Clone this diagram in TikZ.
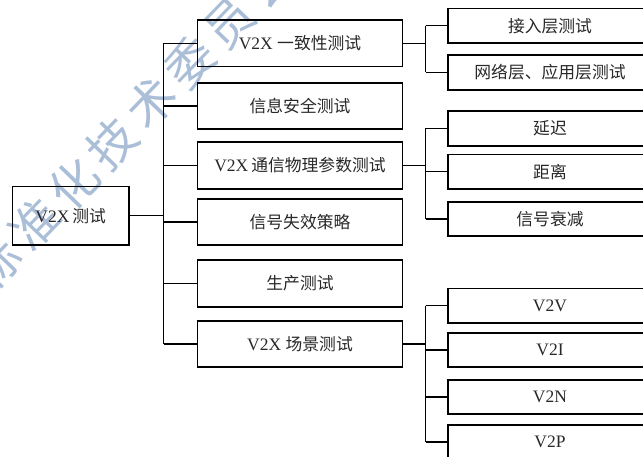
\documentclass[tikz,border=0pt]{standalone}
\usepackage{fontspec}
\setmainfont{Liberation Serif}
\newfontfamily\cjk{Noto Sans CJK SC}
\definecolor{wmblue}{RGB}{170,190,215}
\definecolor{txt}{RGB}{40,40,40}
\tikzset{
  box/.style={draw=black, line width=1.6pt, rectangle, inner sep=0pt, text=txt,
    font=\fontsize{17.5}{19}\selectfont},
  lvl0/.style={box, minimum width=116.5pt, minimum height=58.5pt},
  lvl1/.style={box, minimum width=205pt, minimum height=46.5pt},
  lvl2/.style={box, minimum width=204pt, minimum height=34.5pt},
  conn/.style={line width=1.3pt, black},
  wmark/.style={text=wmblue, rotate=46, inner sep=0pt, font=\cjk\fontsize{48}{50}\selectfont}
}
\newcommand{\zh}[1]{{\cjk\fontsize{16.8}{19}\selectfont #1}}
\begin{document}
\begin{tikzpicture}[x=1pt, y=-1pt]
\useasboundingbox (0,0) rectangle (643,457);
% watermark
\node[wmark] (wm) at (132,123) {标\hspace{8pt}准\hspace{8pt}化\hspace{8pt}技\hspace{8pt}术\hspace{8pt}委\hspace{8pt}员\hspace{8pt}会};
% root
\node[lvl0] (root) at (70.75,215.75) {V2X\,\zh{测试}};
% level 1
\node[lvl1] (m1) at (300,43.25) {V2X \zh{一致性测试}};
\node[lvl1] (m2) at (300,106) {\zh{信息安全测试}};
\node[lvl1] (m3) at (300,165.5) {V2X\,\zh{通信物理参数测试}};
\node[lvl1] (m4) at (300,222) {\zh{信号失效策略}};
\node[lvl1] (m5) at (300,283.5) {\zh{生产测试}};
\node[lvl1] (m6) at (300,344) {V2X \zh{场景测试}};
% level 2
\node[lvl2] (r1) at (550,25.75) {\zh{接入层测试}};
\node[lvl2] (r2) at (550,72.5) {\zh{网络层、应用层测试}};
\node[lvl2] (r3) at (550,128.5) {\zh{延迟}};
\node[lvl2] (r4) at (550,171.75) {\zh{距离}};
\node[lvl2] (r5) at (550,219) {\zh{信号衰减}};
\node[lvl2] (r6) at (550,305.75) {V2V};
\node[lvl2] (r7) at (550,350) {V2I};
\node[lvl2] (r8) at (550,397) {V2N};
\node[lvl2] (r9) at (550,442) {V2P};
% trunk coordinates
\coordinate (t) at (163.5,215.75);
\coordinate (s) at (425.5,0);
% main trunk
\draw[conn] (root.east) -- (t);
\draw[conn] (t |- m1.west) -- (t |- m6.west);
\foreach \m in {m1,m2,m3,m4,m5,m6} \draw[conn] (t |- \m.west) -- (\m.west);
% sub trunks
\draw[conn] (m1.east) -- (s |- m1.east);
\draw[conn] (s |- r1.west) -- (s |- r2.west);
\draw[conn] (m3.east) -- (s |- m3.east);
\draw[conn] (s |- r3.west) -- (s |- r5.west);
\draw[conn] (m6.east) -- (s |- m6.east);
\draw[conn] (s |- r6.west) -- (s |- r9.west);
\foreach \r in {r1,r2,r3,r4,r5,r6,r7,r8,r9} \draw[conn] (s |- \r.west) -- (\r.west);
\end{tikzpicture}
\end{document}
